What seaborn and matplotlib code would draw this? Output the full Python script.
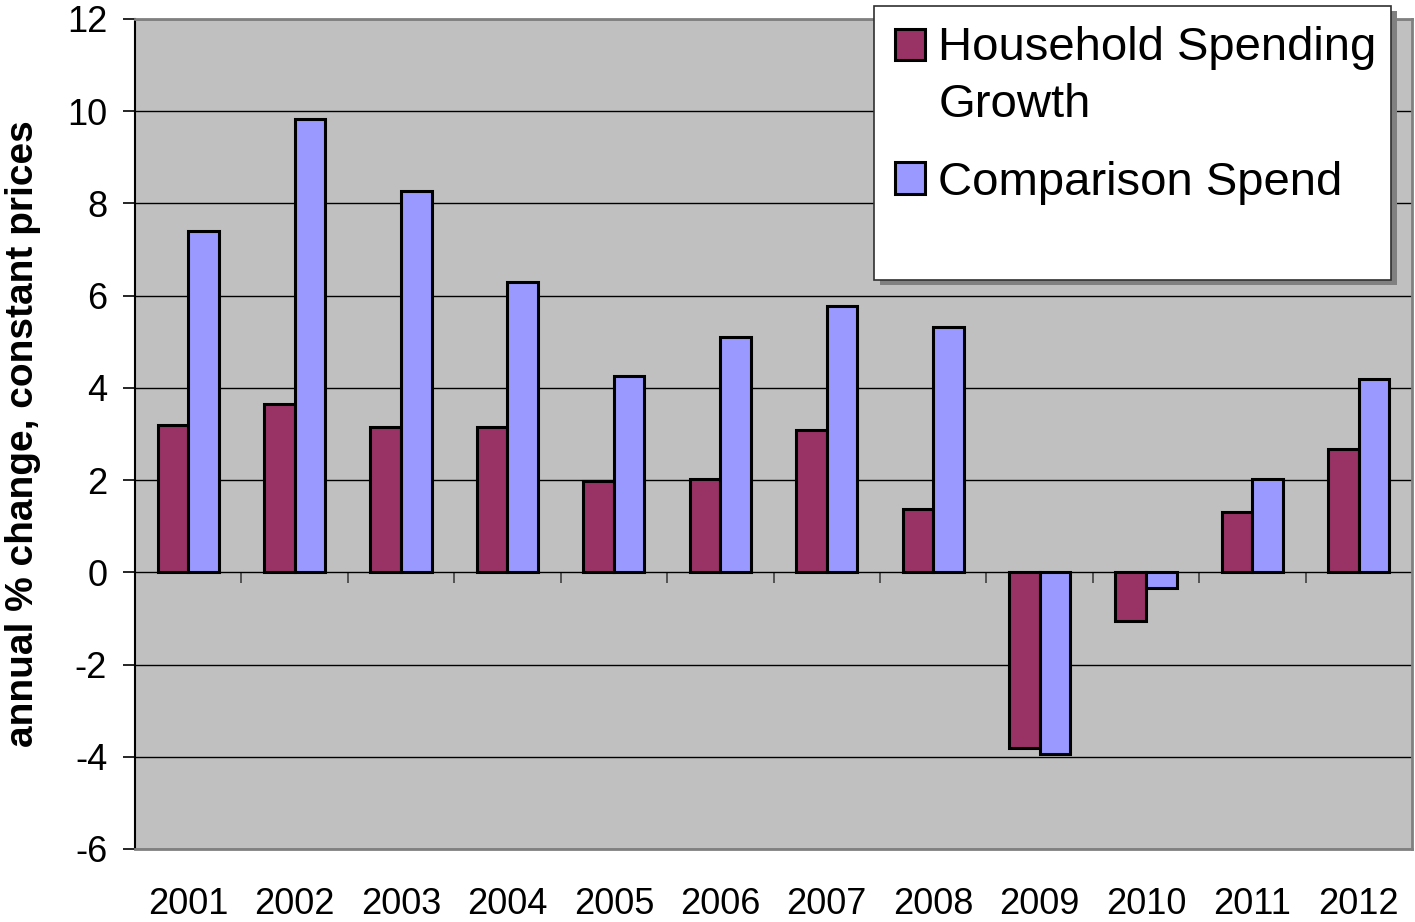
import matplotlib
matplotlib.use("Agg")
import matplotlib.pyplot as plt
import matplotlib.patches as mpatches
from matplotlib.legend_handler import HandlerPatch
import seaborn as sns
import pandas as pd

years = ["2001", "2002", "2003", "2004", "2005", "2006", "2007", "2008", "2009", "2010", "2011", "2012"]
household = [3.2, 3.65, 3.15, 3.15, 1.97, 2.02, 3.08, 1.37, -3.8, -1.06, 1.3, 2.67]
comparison = [7.4, 9.83, 8.26, 6.29, 4.25, 5.1, 5.77, 5.31, -3.93, -0.33, 2.02, 4.19]
series_names = ["Household Spending\nGrowth", "Comparison Spend"]
colors = ["#993366", "#9999FF"]
yticks = [-6, -4, -2, 0, 2, 4, 6, 8, 10, 12]

df = pd.DataFrame({
    "year": years * 2,
    "value": household + comparison,
    "series": [series_names[0]] * len(years) + [series_names[1]] * len(years),
})

sns.set_style("white")
plt.rcParams["font.family"] = ["Liberation Sans", "DejaVu Sans"]
plt.rcParams.update({"text.color": "black", "axes.labelcolor": "black",
                     "xtick.color": "black", "ytick.color": "black"})

fig = plt.figure(figsize=(14.15, 9.22), dpi=100)
ax = fig.add_axes([135 / 1415, 1 - 849 / 922, (1412 - 135) / 1415, (849 - 19) / 922])
ax.set_facecolor("#C0C0C0")

sns.barplot(data=df, x="year", y="value", hue="series", palette=colors,
            edgecolor="black", linewidth=2.2, width=0.575, gap=0,
            saturation=1, legend=False, ax=ax, zorder=3)

ax.set_ylim(-6, 12)
ax.set_xlim(-0.5, len(years) - 0.5)
ax.set_yticks(yticks)
ax.set_yticklabels([str(v) for v in yticks])
ax.yaxis.grid(True, color="black", linewidth=1.0, zorder=0)
ax.set_axisbelow(True)

ax.tick_params(axis="y", direction="out", length=9, width=1.2, color="black",
               labelsize=26, pad=11, left=True, labelcolor="black")
ax.tick_params(axis="x", length=0, labelsize=26, pad=27, labelcolor="black")
ax.set_xlabel("")
ax.set_ylabel("annual % change, constant prices", fontsize=28, fontweight="bold",
              color="black")
ax.yaxis.set_label_coords(-0.074, 0.5)

for s in ["top", "right", "bottom"]:
    ax.spines[s].set_color("#808080")
    ax.spines[s].set_linewidth(2)
ax.spines["left"].set_color("black")
ax.spines["left"].set_linewidth(1.5)

# category separator ticks along the zero line
sec = ax.secondary_xaxis(6 / 18)
sec.set_xticks([i + 0.5 for i in range(len(years) - 1)])
sec.set_xticklabels([])
sec.tick_params(direction="out", length=8, width=1.2, color="#404040")
sec.spines["bottom"].set_visible(False)

# legend frame with shadow
fig.patches.append(mpatches.Rectangle((880 / 1415, 1 - 285 / 922), 517 / 1415, 274 / 922,
                                      transform=fig.transFigure, facecolor="#808080",
                                      edgecolor="none", zorder=4))
fig.patches.append(mpatches.Rectangle((874 / 1415, 1 - 280 / 922), 517 / 1415, 274 / 922,
                                      transform=fig.transFigure, facecolor="white",
                                      edgecolor="#303030", linewidth=1.2, zorder=5))

LINESP = 1.37


def make_patch_first_line(legend, orig_handle, xdescent, ydescent, width, height, fontsize):
    return mpatches.Rectangle((-xdescent, -ydescent + 0.5 * LINESP * fontsize), width, height)


handles = [mpatches.Patch(facecolor=c, edgecolor="black", linewidth=2.2) for c in colors]
leg = fig.legend(handles, series_names, loc="upper left",
                 bbox_to_anchor=(895 / 1415, 1 - 26 / 922),
                 frameon=False, fontsize=34, handlelength=0.64, handleheight=0.64,
                 handletextpad=0.28, labelspacing=0.72, borderpad=0, borderaxespad=0,
                 labelcolor="black",
                 handler_map={handles[0]: HandlerPatch(patch_func=make_patch_first_line)})
for t in leg.get_texts():
    t.set_linespacing(LINESP)
leg.set_zorder(6)

fig.savefig("out.png", dpi=100)
